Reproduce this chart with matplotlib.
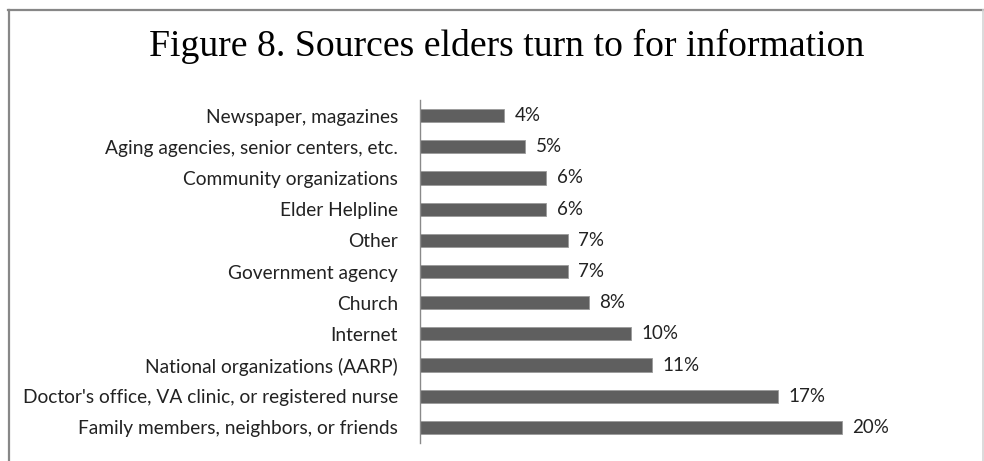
import matplotlib.pyplot as plt
from matplotlib.lines import Line2D

sources = [
    "Family members, neighbors, or friends",
    "Doctor's office, VA clinic, or registered nurse",
    "National organizations (AARP)",
    "Internet",
    "Church",
    "Government agency",
    "Other",
    "Elder Helpline",
    "Community organizations",
    "Aging agencies, senior centers, etc.",
    "Newspaper, magazines",
]
percent = [20, 17, 11, 10, 8, 7, 7, 6, 6, 5, 4]

W, H = 984, 461
fig = plt.figure(figsize=(W / 100, H / 100), dpi=100)
fig.patch.set_facecolor("white")

# chart frame (top, left, right edges)
fig.add_artist(Line2D([8 / W, 983 / W], [1 - 10 / H, 1 - 10 / H], color="#878787", lw=1.6,
                      transform=fig.transFigure))
fig.add_artist(Line2D([9 / W, 9 / W], [0, 1 - 10 / H], color="#878787", lw=1.6,
                      transform=fig.transFigure))
fig.add_artist(Line2D([982.5 / W, 982.5 / W], [0, 1 - 10 / H], color="#d4d4d4", lw=1.2,
                      transform=fig.transFigure))

ax = fig.add_axes([420 / W, 18 / H, 527 / W, 343 / H])
y = range(len(sources))
ax.barh(y, percent, height=0.42, color="#5f5f5f", edgecolor="#9a9a9a", linewidth=0.6)
ax.set_xlim(0, 25)
ax.set_ylim(-0.5, len(sources) - 0.5)

for i, v in enumerate(percent):
    ax.text(v + 0.5, i, f"{v}%", va="center", ha="left", fontsize=13.5,
            family="Lato", color="#222222")

ax.set_yticks(list(y))
ax.set_yticklabels(sources, family="Lato", fontsize=13.8, color="#222222")
ax.tick_params(axis="y", length=0, pad=16)
ax.set_xticks([])
for s in ["top", "right", "bottom"]:
    ax.spines[s].set_visible(False)
ax.spines["left"].set_color("#8a8a8a")
ax.spines["left"].set_linewidth(1.0)

fig.text(507 / W, 1 - 46 / H, "Figure 8. Sources elders turn to for information",
         ha="center", va="center", family="Liberation Serif", fontsize=27.2, color="black")

fig.savefig("out.png", dpi=100)
